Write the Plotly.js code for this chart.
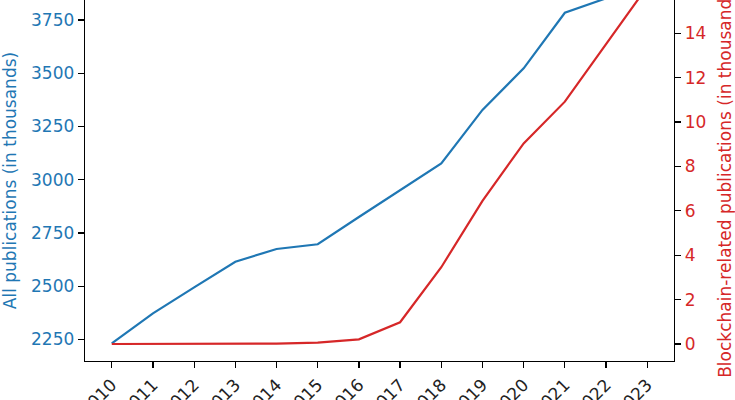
<!DOCTYPE html>
<html>
<head>
<meta charset="utf-8">
<script src="https://cdn.plot.ly/plotly-3.0.1.min.js"></script>
<style>
  html, body { margin: 0; padding: 0; background: #fff; }
  #chart { width: 735px; height: 400px; }
</style>
</head>
<body>
<div id="chart"></div>
<script>
// years on the x axis
const years = [2010, 2011, 2012, 2013, 2014, 2015, 2016, 2017, 2018, 2019, 2020, 2021, 2022, 2023];
// all publications, thousands (left axis)
const allPubs = [2232, 2373, 2495, 2615, 2675, 2697, 2825, 2952, 3077, 3328, 3523, 3784, 3852, 3900];
// blockchain related publications, thousands (right axis)
const chainPubs = [0, 0, 0.01, 0.01, 0.02, 0.06, 0.21, 0.98, 3.46, 6.45, 9.04, 10.92, 13.51, 16.1];

const leftTicks = [2250, 2500, 2750, 3000, 3250, 3500, 3750];
const rightTicks = [0, 2, 4, 6, 8, 10, 12, 14];

const blue = '#1f77b4';
const red = '#d62728';
const font = 'DejaVu Sans, sans-serif';

const traceAll = {
    x: years,
    y: allPubs,
    type: 'scatter',
    mode: 'lines',
    line: { color: blue, width: 2.2 },
    yaxis: 'y',
    hoverinfo: 'skip'
};

const traceChain = {
    x: years,
    y: chainPubs,
    type: 'scatter',
    mode: 'lines',
    line: { color: red, width: 2.2 },
    yaxis: 'y2',
    hoverinfo: 'skip'
};

const layout = {
    width: 735,
    height: 400,
    margin: { l: 85, r: 61, t: 0, b: 39 },
    paper_bgcolor: '#fff',
    plot_bgcolor: '#fff',
    showlegend: false,
    font: { family: font, size: 17, color: '#000' },
    xaxis: {
        range: [2009.35, 2023.65],
        tickvals: years,
        ticktext: years.map(String),
        tickangle: -45,
        ticks: 'outside',
        ticklen: 6,
        tickwidth: 1.2,
        tickcolor: '#000',
        showline: true,
        linecolor: '#000',
        linewidth: 1.3,
        showgrid: false,
        zeroline: false,
        automargin: false,
        tickfont: { family: font, size: 17, color: '#222' }
    },
    yaxis: {
        range: [2149, 3844],
        tickvals: leftTicks,
        ticks: 'outside',
        ticklen: 6,
        tickwidth: 1.2,
        tickcolor: '#000',
        showline: true,
        linecolor: '#000',
        linewidth: 1.3,
        showgrid: false,
        zeroline: false,
        automargin: false,
        tickfont: { family: font, size: 17, color: blue },
        title: { text: 'All publications (in thousands)', font: { family: font, size: 17, color: blue }, standoff: 10 }
    },
    yaxis2: {
        overlaying: 'y',
        side: 'right',
        range: [-0.766, 15.5],
        tickvals: rightTicks,
        ticks: 'outside',
        ticklen: 6,
        tickwidth: 1.2,
        tickcolor: '#000',
        showline: true,
        linecolor: '#000',
        linewidth: 1.3,
        showgrid: false,
        zeroline: false,
        automargin: false,
        tickfont: { family: font, size: 17, color: red },
        title: { text: 'Blockchain-related publications (in thousands)', font: { family: font, size: 17, color: red }, standoff: 15 }
    }
};

Plotly.newPlot('chart', [traceAll, traceChain], layout, { staticPlot: true, displayModeBar: false });
</script>
</body>
</html>
